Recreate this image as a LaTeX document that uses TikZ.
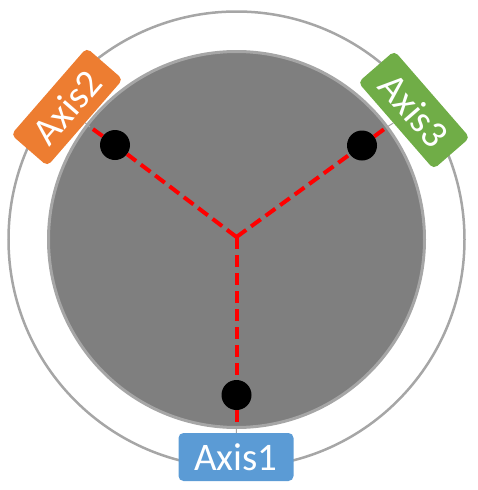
\documentclass[tikz,border=0pt]{standalone}
\usepackage{fontspec}
\setmainfont{Carlito}
\usetikzlibrary{positioning}
\definecolor{ringgray}{HTML}{A6A6A6}
\definecolor{bodygray}{HTML}{7F7F7F}
\definecolor{axblue}{HTML}{5B9BD5}
\definecolor{axorange}{HTML}{ED7D31}
\definecolor{axgreen}{HTML}{70AD47}
\begin{document}
\begin{tikzpicture}[x=1pt,y=-1pt,
axbox/.style={rectangle,rounded corners=5pt,minimum width=115pt,minimum height=48pt,inner sep=0pt,text=white,font=\fontsize{39}{40}\selectfont},
dot/.style={circle,fill=black,minimum size=30pt,inner sep=0pt},
axisline/.style={red,line width=4pt,dash pattern=on 12pt off 6pt},
tie/.style={ringgray,line width=1pt}]
\useasboundingbox (0,0) rectangle (477,490);
\draw[ringgray,line width=2.5pt] (236.5,239.5) circle (228);
\draw[ringgray,line width=3pt,fill=bodygray] (236.5,239.5) circle (188);
\coordinate (O) at (236.5,237);
\coordinate (E1) at (236.5,427);
\coordinate (E2) at (90,127);
\coordinate (E3) at (387,127);
\node[axbox,fill=axblue] (A1) at (236,457) {Axis1};
\node[axbox,fill=axorange,rotate=49] (A2) at (67,107) {Axis2};
\node[axbox,fill=axgreen,rotate=-49] (A3) at (414,110) {Axis3};
\node[dot] (D1) at (236.5,395) {};
\node[dot] (D2) at (115,145) {};
\node[dot] (D3) at (362,145.5) {};
\draw[axisline] (O)--(D1) (D1)--(E1);
\draw[axisline] (O)--(D2) (D2)--(E2);
\draw[axisline] (O)--(D3) (D3)--(E3);
\draw[tie] (E1)--(A1);
\draw[tie] (E2)--(A2);
\draw[tie] (E3)--(A3);
\end{tikzpicture}
\end{document}
